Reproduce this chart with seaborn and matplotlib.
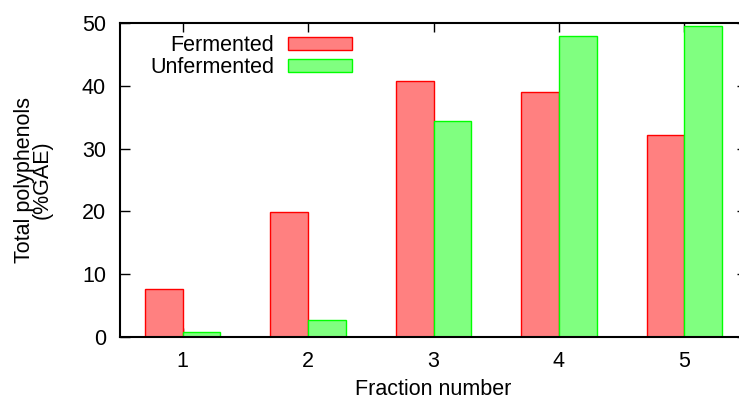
# Imports
import pandas as pd
import seaborn as sns
import matplotlib.pyplot as plt
from matplotlib.patches import Patch

# Data
fractions = ['1', '2', '3', '4', '5']
fermented = [7.6, 19.9, 40.8, 39.0, 32.1]
unfermented = [0.7, 2.7, 34.4, 48.0, 49.6]
series_names = ['Fermented', 'Unfermented']
fills = {'Fermented': '#ff8080', 'Unfermented': '#80ff80'}
edges = {'Fermented': '#ff0000', 'Unfermented': '#00ff00'}

df = pd.DataFrame({
    'fraction': fractions * 2,
    'value': fermented + unfermented,
    'sample': [series_names[0]] * len(fractions) + [series_names[1]] * len(fractions),
})

sns.set_style('ticks')
plt.rcParams['font.family'] = ['Liberation Sans', 'DejaVu Sans']
plt.rcParams['font.size'] = 15.5
plt.rcParams['text.color'] = 'black'
plt.rcParams['axes.labelcolor'] = 'black'
plt.rcParams['xtick.color'] = 'black'
plt.rcParams['ytick.color'] = 'black'

fig = plt.figure(figsize=(7.39, 4.01), dpi=100)
# axes right edge sits just past the picture, like the reference
ax = fig.add_axes([120 / 739, 64.3 / 401, 627 / 739, 313.4 / 401])

sns.barplot(data=df, x='fraction', y='value', hue='sample', order=fractions,
            hue_order=series_names, palette=fills, saturation=1, width=0.6,
            legend=False, ax=ax)

# gnuplot-ish outlines
for cont, name in zip(ax.containers, series_names):
    for bar in cont:
        bar.set_edgecolor(edges[name])
        bar.set_linewidth(1)

ax.set_xlim(-0.5, 4.5)
ax.set_ylim(0, 50)
ax.set_yticks([0, 10, 20, 30, 40, 50])
ax.set_axisbelow(True)

for s in ax.spines.values():
    s.set_visible(True)
    s.set_linewidth(1.5)
    s.set_color('black')

ax.tick_params(axis='y', direction='in', left=True, right=True, length=7,
               width=1, pad=10, labelsize=15.5)
ax.tick_params(axis='x', direction='in', bottom=True, top=True, length=6.5,
               width=1, pad=10, labelsize=15.5)

ax.set_xlabel('Fraction number', fontsize=15.5)
ax.xaxis.set_label_coords(0.5, -0.136)
ax.set_ylabel('Total polyphenols\n(%GAE)', fontsize=15.5, linespacing=0.78)
ax.yaxis.set_label_coords(-0.108, 0.5)

handles = [Patch(facecolor=fills[n], edgecolor=edges[n], linewidth=1) for n in series_names]
ax.legend(handles, series_names, loc='upper right',
          bbox_to_anchor=(352 / 739, 1 - 35 / 401), bbox_transform=fig.transFigure,
          frameon=False, markerfirst=False, borderpad=0, borderaxespad=0,
          handlelength=2.95, handleheight=0.52, handletextpad=0.65,
          labelspacing=0.05, fontsize=15.5)

plt.savefig('out.png', dpi=100)
plt.close()
